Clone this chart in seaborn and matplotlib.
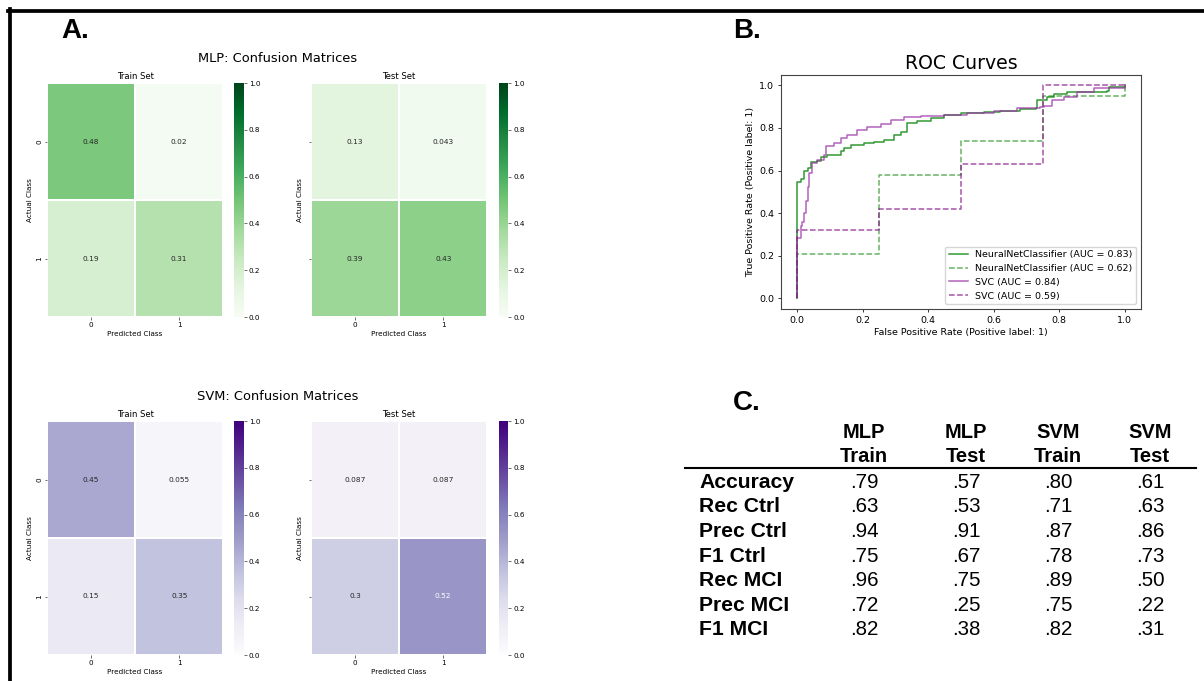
import numpy as np
import pandas as pd
import seaborn as sns
import matplotlib.pyplot as plt
from matplotlib.lines import Line2D

# Confusion matrix values (normalized over all samples)
class_labels = ['0', '1']
mlp_train_cm = [[0.48, 0.02], [0.19, 0.31]]
mlp_test_cm = [[0.13, 0.043], [0.39, 0.43]]
svm_train_cm = [[0.45, 0.055], [0.15, 0.35]]
svm_test_cm = [[0.087, 0.087], [0.3, 0.52]]

# ROC curve points, drawn as steps
nn_train_fpr = [0, 0, 0.011, 0.021, 0.032, 0.042, 0.062, 0.072, 0.092, 0.133, 0.143, 0.164, 0.204,
                0.235, 0.265, 0.296, 0.316, 0.336, 0.367, 0.408, 0.448, 0.499, 0.57, 0.621, 0.682,
                0.728, 0.731, 0.763, 0.784, 0.824, 0.946, 0.951, 1.0]
nn_train_tpr = [0, 0.548, 0.56, 0.6, 0.61, 0.64, 0.645, 0.665, 0.673, 0.69, 0.705, 0.72, 0.731,
                0.736, 0.744, 0.767, 0.783, 0.825, 0.834, 0.845, 0.861, 0.869, 0.873, 0.88, 0.888,
                0.892, 0.931, 0.947, 0.958, 0.97, 0.975, 0.994, 1.0]
nn_test_fpr = [0, 0, 0.25, 0.5, 0.75, 1.0]
nn_test_tpr = [0, 0.21, 0.58, 0.74, 0.95, 1.0]

svc_train_fpr = [0, 0, 0.011, 0.016, 0.021, 0.026, 0.032, 0.037, 0.047, 0.062, 0.082, 0.087,
                 0.113, 0.133, 0.153, 0.184, 0.214, 0.255, 0.286, 0.326, 0.377, 0.448, 0.519,
                 0.6, 0.672, 0.743, 0.753, 0.778, 0.814, 0.855, 0.905, 1.0]
svc_train_tpr = [0, 0.283, 0.338, 0.36, 0.4, 0.455, 0.525, 0.588, 0.634, 0.65, 0.673, 0.713,
                 0.728, 0.752, 0.767, 0.79, 0.806, 0.819, 0.838, 0.85, 0.858, 0.861, 0.869,
                 0.881, 0.892, 0.897, 0.903, 0.931, 0.947, 0.97, 0.986, 1.0]
svc_test_fpr = [0, 0, 0.25, 0.5, 0.75, 1.0]
svc_test_tpr = [0, 0.32, 0.42, 0.63, 1.0, 1.0]

roc_labels = ['NeuralNetClassifier (AUC = 0.83)', 'NeuralNetClassifier (AUC = 0.62)',
              'SVC (AUC = 0.84)', 'SVC (AUC = 0.59)']

# Metrics table
metric_names = ['Accuracy', 'Rec Ctrl', 'Prec Ctrl', 'F1 Ctrl', 'Rec MCI', 'Prec MCI', 'F1 MCI']
table_models = ['MLP', 'MLP', 'SVM', 'SVM']
table_sets = ['Train', 'Test', 'Train', 'Test']
mlp_train_scores = [0.79, 0.63, 0.94, 0.75, 0.96, 0.72, 0.82]
mlp_test_scores = [0.57, 0.53, 0.91, 0.67, 0.75, 0.25, 0.38]
svm_train_scores = [0.80, 0.71, 0.87, 0.78, 0.89, 0.75, 0.82]
svm_test_scores = [0.61, 0.63, 0.86, 0.73, 0.50, 0.22, 0.31]

W, H = 1204, 681
fig = plt.figure(figsize=(W / 100, H / 100), dpi=100)


def rect(x0, y0, x1, y1):
    # pixel box -> figure fraction rect
    return [x0 / W, 1 - y1 / H, (x1 - x0) / W, (y1 - y0) / H]


def draw_cm(values, cmap, x0, y0, cb_x0, subtitle, show_ylabels):
    ax = fig.add_axes(rect(x0, y0, x0 + 176.3, y0 + 234))
    cax = fig.add_axes(rect(cb_x0, y0, cb_x0 + 9.5, y0 + 234))
    df = pd.DataFrame(values, index=class_labels, columns=class_labels)
    sns.heatmap(df, ax=ax, cbar_ax=cax, cmap=cmap, vmin=0, vmax=1, annot=True,
                annot_kws={'size': 5.3}, linewidths=0.15, linecolor='white')
    ax.set_title(subtitle, fontsize=6.1, pad=3)
    ax.set_xlabel('Predicted Class', fontsize=5.2, labelpad=2)
    ax.set_ylabel('Actual Class', fontsize=5.2, labelpad=2)
    ax.tick_params(labelsize=5.2, length=1.8, width=0.4, pad=1.8)
    if not show_ylabels:
        ax.set_yticklabels([])
    cax.tick_params(labelsize=5.2, length=1.8, width=0.4, pad=1.8)
    return ax


# A. confusion matrices
draw_cm(mlp_train_cm, 'Greens', 47, 83, 234.3, 'Train Set', True)
draw_cm(mlp_test_cm, 'Greens', 311, 83, 498.5, 'Test Set', False)
draw_cm(svm_train_cm, 'Purples', 47, 421, 234.3, 'Train Set', True)
draw_cm(svm_test_cm, 'Purples', 311, 421, 498.5, 'Test Set', False)
fig.text(277.5 / W, 1 - 58.7 / H, 'MLP: Confusion Matrices', fontsize=9.4, ha='center', va='center')
fig.text(277.5 / W, 1 - 396.7 / H, 'SVM: Confusion Matrices', fontsize=9.4, ha='center', va='center')

# B. ROC curves
ax_roc = fig.add_axes(rect(780.7, 74.7, 1141, 309))
roc_series = [
    (nn_train_fpr, nn_train_tpr, 'green', '-', 0.8),
    (nn_test_fpr, nn_test_tpr, 'green', '--', 0.6),
    (svc_train_fpr, svc_train_tpr, '#9b30a8', '-', 0.75),
    (svc_test_fpr, svc_test_tpr, '#8b1a8b', '--', 0.75),
]
for (fpr, tpr, col, ls, a), lab in zip(roc_series, roc_labels):
    sns.lineplot(x=fpr, y=tpr, ax=ax_roc, estimator=None, sort=False, drawstyle='steps-post',
                 color=col, linestyle=ls, alpha=a, linewidth=1.1, label=lab)
ax_roc.set_xlim(-0.05, 1.05)
ax_roc.set_ylim(-0.05, 1.05)
ax_roc.set_xticks(np.arange(0, 1.01, 0.2))
ax_roc.set_yticks(np.arange(0, 1.01, 0.2))
ax_roc.tick_params(labelsize=6.8, length=2.4, width=0.55, pad=2.4)
for s in ax_roc.spines.values():
    s.set_color('#444444')
    s.set_linewidth(0.8)
ax_roc.set_title('ROC Curves', fontsize=13.6, pad=4)
ax_roc.set_xlabel('False Positive Rate (Positive label: 1)', fontsize=6.8, labelpad=2.5)
ax_roc.set_ylabel('True Positive Rate (Positive label: 1)', fontsize=6.8, labelpad=2.5)
ax_roc.legend(loc='lower right', fontsize=6.8)

# C. metrics table
col_x = [864, 966, 1058, 1150]
row_base = [487.5, 512, 537, 561.5, 586, 611, 635]
columns = [mlp_train_scores, mlp_test_scores, svm_train_scores, svm_test_scores]
tfont = 'Liberation Sans'
for cx, model, split, scores in zip(col_x, table_models, table_sets, columns):
    fig.text(cx / W, 1 - 438.3 / H, model, fontsize=14.5, family=tfont, weight='bold',
             ha='center', va='baseline')
    fig.text(cx / W, 1 - 461.7 / H, split, fontsize=14.5, family=tfont, weight='bold',
             ha='center', va='baseline')
    for ry, v in zip(row_base, scores):
        fig.text(cx / W, 1 - ry / H, f'{v:.2f}'.lstrip('0'), fontsize=14.8, family=tfont,
                 ha='center', va='baseline')
for ry, name in zip(row_base, metric_names):
    fig.text(699 / W, 1 - ry / H, name, fontsize=15.2, family=tfont, weight='bold',
             ha='left', va='baseline')
fig.add_artist(Line2D([685 / W, 1196 / W], [1 - 468 / H] * 2, color='black', lw=1.5))

# Panel letters and border
for lx, ly, letter in [(61, 30.5, 'A.'), (733, 30.5, 'B.'), (733, 403, 'C.')]:
    fig.text(lx / W, 1 - ly / H, letter, fontsize=20, family=tfont, weight='bold',
             ha='left', va='center')
fig.add_artist(Line2D([8 / W, 1], [1 - 10.5 / H] * 2, color='black', lw=2.7))
fig.add_artist(Line2D([9.5 / W] * 2, [1 - 9 / H, 0], color='black', lw=2.7))

fig.savefig('out.png', dpi=100)
